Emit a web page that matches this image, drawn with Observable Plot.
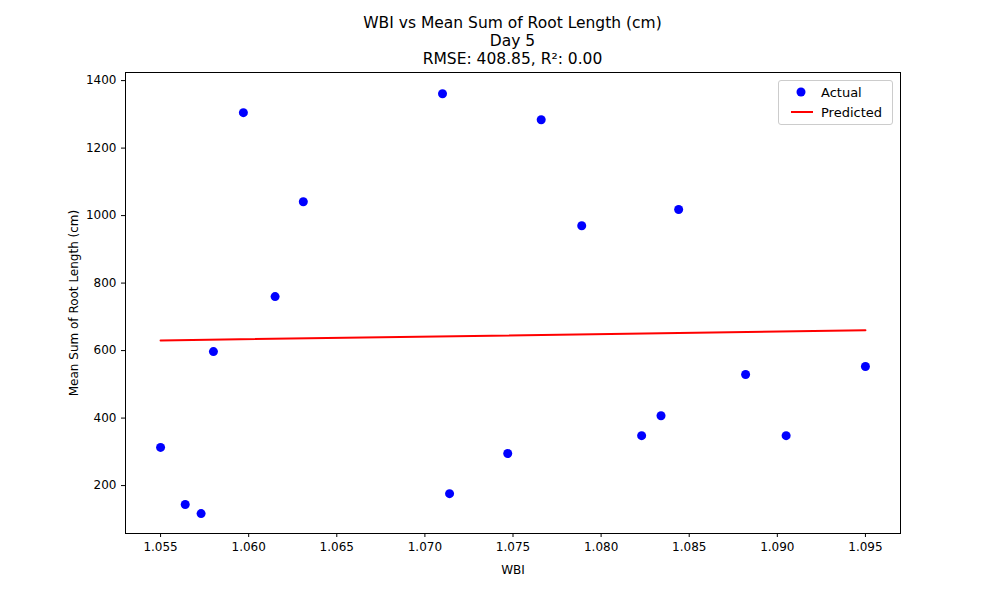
<!DOCTYPE html>
<html><head><meta charset="utf-8">
<script src="https://cdn.jsdelivr.net/npm/d3@7"></script>
<script src="https://cdn.jsdelivr.net/npm/@observablehq/plot@0.6"></script>
<style>
body{margin:0;font-family:"DejaVu Sans",sans-serif;background:#fff}
#wrap{position:relative;width:1000px;height:600px}
#title{position:absolute;top:14px;left:125px;width:775px;text-align:center;font-size:15.5px;line-height:18px}
#chart{position:absolute;top:68px;left:0}
#legend{position:absolute;left:778px;top:80px;width:113px;height:43px;border:1px solid #ccc;border-radius:3px;background:#fff;font-size:13px}
#legend div{position:absolute;left:10px;height:16px;display:flex;align-items:center}
</style></head>
<body><div id="wrap">
<div id="title">WBI vs Mean Sum of Root Length (cm)<br>Day 5<br>RMSE: 408.85, R²: 0.00</div>
<div id="chart"></div>
<div id="legend">
<div style="top:3px"><svg width="24" height="12"><circle cx="12" cy="6" r="4.5" fill="blue"/></svg><span style="margin-left:8px">Actual</span></div>
<div style="top:23px"><svg width="24" height="12"><line x1="2" x2="24" y1="6" y2="6" stroke="red" stroke-width="2"/></svg><span style="margin-left:8px">Predicted</span></div>
</div>
</div>
<script>
const wbi = [1.0550,1.0564,1.0573,1.0580,1.0597,1.0615,1.0631,1.0710,1.0714,1.0747,1.0766,1.0789,1.0823,1.0834,1.0844,1.0882,1.0905,1.0950];
const rootLen = [313,144,117,597,1305,760,1041,1361,176,295,1284,970,348,407,1018,529,348,553];
const predWbi = [1.0550,1.0950];
const predLen = [630,660];

const actual = wbi.map((x,i)=>({x, y: rootLen[i]}));
const pred = predWbi.map((x,i)=>({x, y: predLen[i]}));

const chart = Plot.plot({
  width: 1000, height: 532,
  marginLeft: 125, marginRight: 100, marginTop: 4, marginBottom: 67,
  style: {fontFamily: "DejaVu Sans", fontSize: "12px", color: "black"},
  x: {domain: [1.05301, 1.09699], ticks: d3.range(1.055, 1.0951, 0.005), tickFormat: d3.format(".3f"), label: "WBI", labelAnchor: "center", labelArrow: "none", tickSize: 4, labelOffset: 40},
  y: {domain: [58, 1424], ticks: [200,400,600,800,1000,1200,1400], tickFormat: d => String(d), label: "Mean Sum of Root Length (cm)", labelAnchor: "center", labelArrow: "none", tickSize: 4, labelOffset: 56},
  marks: [
    Plot.frame({stroke: "black"}),
    Plot.line(pred, {x: "x", y: "y", stroke: "red", strokeWidth: 2}),
    Plot.dot(actual, {x: "x", y: "y", r: 4.5, fill: "blue"})
  ]
});
document.getElementById("chart").append(chart);
</script>
</body></html>
